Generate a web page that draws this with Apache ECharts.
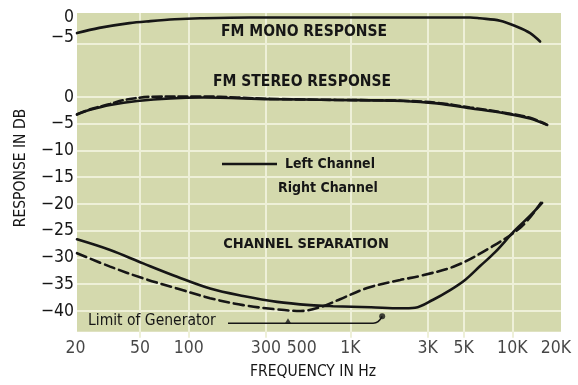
<!DOCTYPE html>
<html>
<head>
<meta charset="utf-8">
<script src="https://cdn.jsdelivr.net/npm/echarts@6/dist/echarts.min.js"></script>
<style>
  html, body { margin: 0; padding: 0; background: #ffffff; }
  #chart { width: 578px; height: 385px; }
</style>
</head>
<body>
<div id="chart"></div>
<script>
// ---- axis ranges ----
const freqMin = 20.4;
const freqMax = 20000;
const dbMin = -45;        // separation / stereo scale
const dbMax = 15.7;
const plotDbBottom = -43.9;
const monoDbMin = -80;    // mono response scale
const monoDbMax = 1.12;

// ---- tick labels ----
const freqTicks = [20, 50, 100, 300, 500, 1000, 3000, 5000, 10000, 20000];
const freqTickText = ['20', '50', '100', '300', '500', '1K', '3K', '5K', '10K', '20K'];
const dbTicks = [0, -5, -10, -15, -20, -25, -30, -35, -40];
const monoDbTicks = [0, -5];

// ---- background ruling ----
const gridFreqs = [50, 100, 300, 1000, 3000, 5000, 10000];
const gridDbs = [10, 0, -5, -10, -15, -20, -25, -30, -35, -40];

// ---- FM mono response ----
const monoFreq = [20.4, 28, 43, 58, 82, 118, 240, 1000, 5500, 6300, 8400, 10700, 12900, 14850];
const monoDb   = [-3.9, -2.6, -1.4, -0.9, -0.45, -0.2, 0, 0, 0, -0.2, -0.8, -2.3, -3.9, -6.0];

// ---- FM stereo response ----
const stereoLeftFreq = [20.4, 24.6, 32.7, 48, 77, 123, 318, 826, 2114, 3428, 5485, 8770, 12885, 16410];
const stereoLeftDb   = [-3.2, -2.4, -1.5, -0.75, -0.25, -0.1, -0.4, -0.55, -0.75, -1.2, -2.1, -3.0, -4.0, -5.2];
const stereoRightFreq = [20.4, 24.6, 32.7, 39.3, 60, 123, 199, 318, 826, 2114, 3428, 5485, 8770, 12885, 16410];
const stereoRightDb   = [-3.3, -2.3, -1.3, -0.6, 0.05, 0.1, -0.1, -0.35, -0.55, -0.7, -1.1, -1.95, -2.9, -3.9, -5.2];

// ---- channel separation ----
const sepLeftFreq = [20.4, 32.7, 52.3, 84.8, 135.6, 217, 352, 563, 781, 1341, 2026, 2508, 3241, 4128, 5107, 6325, 7832, 10405, 12885, 15290];
const sepLeftDb   = [-26.6, -28.6, -31.1, -33.6, -35.8, -37.2, -38.3, -38.9, -39.1, -39.3, -39.5, -39.4, -37.9, -36.1, -34.2, -31.6, -29.0, -24.9, -22.2, -19.8];
const sepRightFreq = [20.4, 32.7, 52.3, 84.8, 135.6, 217, 352, 489, 649, 862, 1266, 2026, 2731, 4431, 7087, 11336, 15000];
const sepRightDb   = [-29.2, -31.7, -33.9, -35.8, -37.6, -38.9, -39.7, -40.0, -39.3, -37.8, -35.7, -34.2, -33.4, -31.6, -28.4, -24.3, -19.8];

// ---- generator limit bracket ----
const limitFreq = [175, 1380, 1480, 1570];
const limitDb   = [-42.3, -42.3, -42.0, -41.0];
const limitMarkFreq = [411];
const limitMarkDb   = [-41.8];

const FONT = '"Liberation Sans Narrow", "DejaVu Sans Condensed", sans-serif';
const INK = '#161616';
const PLOT_BG = '#d4d9ad';
const RULE = '#eef0d8';

const pairs = (xs, ys) => xs.map((x, i) => [x, ys[i]]);

const curve = (name, xs, ys, dash, yAxisIndex) => ({
  name,
  type: 'line',
  yAxisIndex: yAxisIndex || 0,
  data: pairs(xs, ys),
  smooth: 0.35,
  symbol: 'none',
  silent: true,
  z: 5,
  lineStyle: { color: INK, width: 2.6, type: dash || 'solid', cap: 'round' }
});

const dbText = v => (v === 0 ? '0' : '\u2212' + (-v));

const chart = echarts.init(document.getElementById('chart'), null, { renderer: 'canvas' });

chart.setOption({
  animation: false,
  backgroundColor: '#ffffff',
  grid: { left: 77, right: 17, top: 13, bottom: 47.25, containLabel: false },
  xAxis: {
    type: 'log',
    logBase: 10,
    min: freqMin,
    max: freqMax,
    axisLine: { show: false },
    axisTick: { show: false },
    axisLabel: { show: false },
    splitLine: { show: false },
    minorSplitLine: { show: false }
  },
  yAxis: [
    {
      type: 'value',
      min: dbMin,
      max: dbMax,
      interval: 5,
      axisLine: { show: false },
      axisTick: { show: false },
      splitLine: { show: false },
      axisLabel: {
        margin: 3,
        fontFamily: FONT,
        fontSize: 17.5,
        color: INK,
        formatter: v => dbTicks.includes(v) ? dbText(v) : ''
      }
    },
    {
      type: 'value',
      position: 'left',
      offset: 0,
      min: monoDbMin,
      max: monoDbMax,
      interval: 5,
      axisLine: { show: false },
      axisTick: { show: false },
      splitLine: { show: false },
      axisLabel: {
        margin: 3,
        fontFamily: FONT,
        fontSize: 17.5,
        color: INK,
        formatter: v => monoDbTicks.includes(v) ? dbText(v) : ''
      }
    }
  ],
  series: [
    {
      name: 'plot area',
      type: 'scatter',
      data: [],
      silent: true,
      z: 0,
      markArea: {
        silent: true,
        itemStyle: { color: PLOT_BG },
        data: [[{ coord: [freqMin, plotDbBottom] }, { coord: [freqMax, dbMax] }]]
      }
    },
    {
      name: 'ruling',
      type: 'scatter',
      data: [],
      silent: true,
      z: 1,
      markLine: {
        silent: true,
        symbol: 'none',
        label: { show: false },
        lineStyle: { color: RULE, width: 2, type: 'solid', opacity: 1 },
        emphasis: { disabled: true },
        data: gridFreqs.map(f => ({ xAxis: f })).concat(gridDbs.map(d => ({ yAxis: d })))
      }
    },
    curve('FM Mono', monoFreq, monoDb, 'solid', 1),
    curve('Stereo Left', stereoLeftFreq, stereoLeftDb, 'solid'),
    curve('Stereo Right', stereoRightFreq, stereoRightDb, [9, 4]),
    curve('Left Channel', sepLeftFreq, sepLeftDb, 'solid'),
    curve('Right Channel', sepRightFreq, sepRightDb, [10, 5]),
    {
      name: 'Limit of Generator',
      type: 'line',
      data: pairs(limitFreq, limitDb),
      smooth: 0.4,
      symbol: 'none',
      silent: true,
      z: 5,
      lineStyle: { color: INK, width: 1.6 }
    },
    {
      name: 'limit end',
      type: 'scatter',
      data: [pairs(limitFreq, limitDb)[limitFreq.length - 1]],
      symbol: 'circle',
      symbolSize: 6,
      silent: true,
      z: 6,
      itemStyle: { color: INK }
    },
    {
      name: 'limit mark',
      type: 'scatter',
      data: pairs(limitMarkFreq, limitMarkDb),
      symbol: 'triangle',
      symbolSize: [6, 5],
      silent: true,
      z: 6,
      itemStyle: { color: INK }
    },
    {
      name: 'frequency labels',
      type: 'scatter',
      data: freqTicks.map((f, i) => ({
        value: [f, dbMin],
        label: {
          formatter: freqTickText[i],
          offset: i === freqTicks.length - 1 ? [-5, 0] : [0, 0]
        }
      })),
      symbolSize: 0,
      clip: false,
      silent: true,
      label: {
        show: true,
        position: 'bottom',
        distance: 2,
        fontFamily: FONT,
        fontSize: 17.5,
        color: INK
      }
    }
  ],
  graphic: [
    {
      type: 'text', x: 304, y: 32, silent: true, z: 10,
      style: { text: 'FM MONO RESPONSE', fontFamily: FONT, fontWeight: 'bold', fontSize: 15.5, fill: INK, align: 'center', verticalAlign: 'middle' }
    },
    {
      type: 'text', x: 302, y: 82, silent: true, z: 10,
      style: { text: 'FM STEREO RESPONSE', fontFamily: FONT, fontWeight: 'bold', fontSize: 15.5, fill: INK, align: 'center', verticalAlign: 'middle' }
    },
    {
      type: 'line', silent: true, z: 10,
      shape: { x1: 222, y1: 164, x2: 277, y2: 164 },
      style: { stroke: INK, lineWidth: 2.6 }
    },
    {
      type: 'text', x: 285, y: 164, silent: true, z: 10,
      style: { text: 'Left Channel', fontFamily: FONT, fontWeight: 'bold', fontSize: 14, fill: INK, align: 'left', verticalAlign: 'middle' }
    },
    {
      type: 'text', x: 278, y: 188, silent: true, z: 10,
      style: { text: 'Right Channel', fontFamily: FONT, fontWeight: 'bold', fontSize: 14, fill: INK, align: 'left', verticalAlign: 'middle' }
    },
    {
      type: 'text', x: 306, y: 244, silent: true, z: 10,
      style: { text: 'CHANNEL SEPARATION', fontFamily: FONT, fontWeight: 'bold', fontSize: 14.5, fill: INK, align: 'center', verticalAlign: 'middle' }
    },
    {
      type: 'text', x: 88, y: 321, silent: true, z: 10,
      style: { text: 'Limit of Generator', fontFamily: FONT, fontSize: 15.5, fill: INK, align: 'left', verticalAlign: 'middle' }
    },
    {
      type: 'text', x: 313, y: 372, silent: true, z: 10,
      style: { text: 'FREQUENCY IN Hz', fontFamily: FONT, fontSize: 15.5, fill: INK, align: 'center', verticalAlign: 'middle' }
    },
    {
      type: 'text', x: 21, y: 168, rotation: Math.PI / 2, silent: true, z: 10,
      style: { text: 'RESPONSE IN DB', fontFamily: FONT, fontSize: 15.5, fill: INK, align: 'center', verticalAlign: 'middle' }
    }
  ]
});
</script>
</body>
</html>
